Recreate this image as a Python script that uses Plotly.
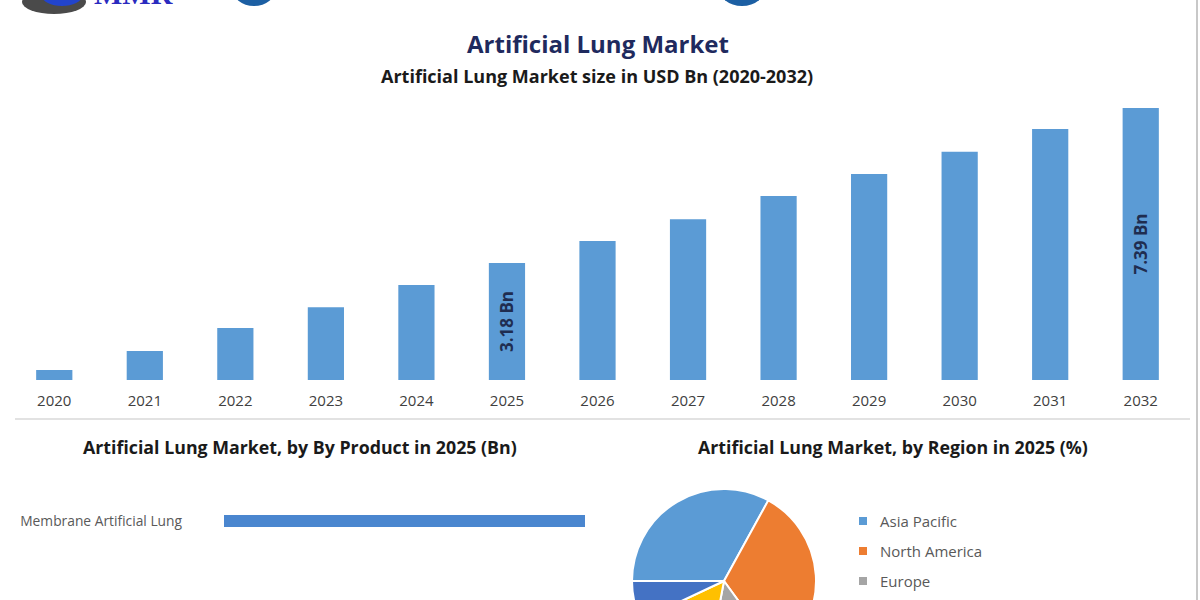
import plotly.graph_objects as go

# ---------------- data ----------------
years = ["2020", "2021", "2022", "2023", "2024", "2025", "2026",
         "2027", "2028", "2029", "2030", "2031", "2032"]
market_size = [0.27, 0.79, 1.41, 1.98, 2.58, 3.18, 3.78,
               4.37, 5.00, 5.60, 6.20, 6.82, 7.39]
labeled_years = ["2025", "2032"]

products = ["Membrane Artificial Lung"]
product_values = [3.18]

regions = ["Asia Pacific", "North America", "Europe",
           "Middle East and Africa", "South America"]
region_share = [33, 32, 13, 15, 7]
region_colors = ["#5B9BD5", "#ED7D31", "#A5A5A5", "#FFC000", "#4472C4"]
legend_visible = 3

main_title = "Artificial Lung Market"
sub_title = "Artificial Lung Market size in USD Bn (2020-2032)"
left_title = "Artificial Lung Market, by By Product in 2025 (Bn)"
right_title = "Artificial Lung Market, by Region in 2025 (%)"

# ---------------- helpers (pixel -> paper) ----------------
W, H = 1200, 700
def px(x):
    return x / W
def py(y):
    return 1 - y / H

FONT = "Open Sans"

fig = go.Figure()

bar_text = [f"{v:.2f} Bn" if y in labeled_years else "" for y, v in zip(years, market_size)]
fig.add_trace(go.Bar(
    x=years, y=market_size, xaxis="x", yaxis="y",
    marker=dict(color="#5B9BD5", line=dict(width=0)),
    text=bar_text, textposition="inside", insidetextanchor="middle",
    textangle=-90, textfont=dict(family=FONT, size=17, color="#1F2D50", weight="bold"),
    showlegend=False, hoverinfo="x+y",
))

fig.add_trace(go.Bar(
    x=product_values, y=products, orientation="h", xaxis="x2", yaxis="y2",
    marker=dict(color="#4A86CF", line=dict(width=0)),
    showlegend=False,
))

fig.add_trace(go.Pie(
    labels=regions, values=region_share, sort=False,
    direction="clockwise", rotation=270,
    marker=dict(colors=region_colors, line=dict(color="white", width=2)),
    textinfo="none", showlegend=False,
    domain=dict(x=[px(632), px(816)], y=[py(673), py(489)]),
))

# top chart scale: baseline at 380px, 36.8 px per unit
top_max = 8
fig.update_layout(
    xaxis=dict(domain=[px(9), px(1186)], showgrid=False, showline=False, zeroline=False,
               ticks="", ticklabelstandoff=10,
               tickfont=dict(family=FONT, size=15, color="#404040")),
    yaxis=dict(domain=[py(380), py(380 - top_max * 36.8)], range=[0, top_max],
               visible=False, showgrid=False),
    xaxis2=dict(domain=[px(224), px(585)], range=[0, product_values[0]], visible=False,
                anchor="y2"),
    yaxis2=dict(domain=[py(536), py(506)], anchor="x2", showgrid=False, showline=False,
                zeroline=False, ticks="", ticklabelstandoff=41,
                tickfont=dict(family=FONT, size=13.8, color="#595959")),
    bargap=0.6,
)

annotations = [
    dict(text=f"<b>{main_title}</b>", x=px(598), y=py(44), xref="paper", yref="paper",
         showarrow=False, font=dict(family=FONT, size=24, color="#1F2A5E"),
         xanchor="center", yanchor="middle"),
    dict(text=f"<b>{sub_title}</b>", x=px(597), y=py(76), xref="paper", yref="paper",
         showarrow=False, font=dict(family=FONT, size=18, color="#1A1A1A"),
         xanchor="center", yanchor="middle"),
    dict(text=f"<b>{left_title}</b>", x=px(300), y=py(447), xref="paper", yref="paper",
         showarrow=False, font=dict(family=FONT, size=17.8, color="#1A1A1A"),
         xanchor="center", yanchor="middle"),
    dict(text=f"<b>{right_title}</b>", x=px(893), y=py(447), xref="paper", yref="paper",
         showarrow=False, font=dict(family=FONT, size=17.8, color="#1A1A1A"),
         xanchor="center", yanchor="middle"),
    dict(text="<b>MMR</b>", x=px(92), y=py(-6), xref="paper", yref="paper",
         showarrow=False, font=dict(family="Liberation Serif", size=30, color="#2B2BBF"),
         xanchor="left", yanchor="middle"),
]

shapes = [
    # separator / axis line
    dict(type="line", xref="paper", yref="paper", x0=px(15), x1=px(1190),
         y0=py(419), y1=py(419), line=dict(color="#D9D9D9", width=1.5)),
    # right border
    dict(type="line", xref="paper", yref="paper", x0=px(1197), x1=px(1197),
         y0=py(0), y1=py(700), line=dict(color="#C8C8C8", width=2)),
    # logo decorations (partially cut at top)
    dict(type="circle", xref="paper", yref="paper", x0=px(22), x1=px(86),
         y0=py(14), y1=py(-10), fillcolor="#4A4A4A", line=dict(width=0)),
    dict(type="circle", xref="paper", yref="paper", x0=px(42), x1=px(82),
         y0=py(6), y1=py(-14), fillcolor="#2244CC", line=dict(width=0)),
    dict(type="circle", xref="paper", yref="paper", x0=px(232), x1=px(276),
         y0=py(6), y1=py(-30), fillcolor="#1C5FA3", line=dict(width=0)),
    dict(type="circle", xref="paper", yref="paper", x0=px(718), x1=px(766),
         y0=py(6), y1=py(-34), fillcolor="#1C5FA3", line=dict(width=0)),
]

# custom legend for the pie
for i in range(legend_visible):
    yc = 521 + 30 * i
    shapes.append(dict(type="rect", xref="paper", yref="paper",
                       x0=px(859), x1=px(867), y0=py(yc + 4), y1=py(yc - 4),
                       fillcolor=region_colors[i], line=dict(width=0)))
    annotations.append(dict(text=regions[i], x=px(878), y=py(yc), xref="paper", yref="paper",
                            showarrow=False, xanchor="left", yanchor="middle",
                            font=dict(family=FONT, size=15, color="#595959")))

fig.update_layout(
    width=W, height=H, autosize=False,
    margin=dict(l=0, r=0, t=0, b=0),
    paper_bgcolor="white", plot_bgcolor="white",
    annotations=annotations, shapes=shapes,
    font=dict(family=FONT),
)

fig.write_html(
    "out.html",
    post_script="document.documentElement.style.overflow='hidden';document.body.style.overflow='hidden';document.body.style.margin='0';",
)
